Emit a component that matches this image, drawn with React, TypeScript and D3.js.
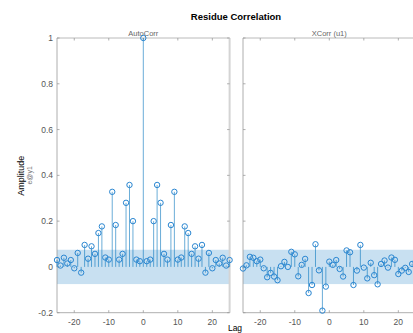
import {useEffect, useRef} from "react";
import * as d3 from "d3";

// lags shown on both panels
const lags = d3.range(-25, 26);

// autocorrelation of e@y1, lags 0..25 (mirrored for negative lags)
const autoCorrHalf = [
    1, 0.025, 0.032, 0.2, 0.358, 0.28, 0.057, 0.032, 0.183, 0.328,
    0.032, 0.041, 0.177, 0.148, 0.057, 0.09, 0.036, 0.096, -0.025, 0.061,
    -0.006, 0.03, 0.015, 0.04, 0.006, 0.03
];

// cross correlation with u1, lags -25..25
const xCorrValues = [
    -0.007, 0.007, 0.044, 0.04, 0.025, 0.032, -0.006, -0.045, -0.026, -0.042,
    -0.058, 0.003, 0.022, 0, 0.066, 0.055, -0.041, 0.009, 0.035, -0.114,
    -0.079, 0.099, -0.015, -0.191, -0.086, 0.023, 0.009, 0.03, -0.009, -0.042,
    0.072, 0.064, -0.079, -0.016, 0.096, -0.003, -0.05, 0.018, -0.036, -0.076,
    0.013, 0.028, -0.003, 0.041, 0.031, -0.031, -0.016, -0.004, -0.022, 0.013,
    0.02
];

const confidenceBound = 0.075;
const yTicks = [-0.2, 0, 0.2, 0.4, 0.6, 0.8, 1];
const xTicks = [-20, -10, 0, 10, 20];
const panelTitles = ["AutoCorr", "XCorr (u1)"];

const autoCorrValues = lags.map(l => autoCorrHalf[Math.abs(l)]);

export default function App() {
    const chartRef = useRef<SVGSVGElement>(null);

    useEffect(() => {
        if (!chartRef.current) return;
        const width = 413;
        const height = 333;
        const marginTop = 38;
        const marginBottom = 20.3;
        const panelWidth = 172.6;
        const panelLefts = [57, 243];
        const font = "'Liberation Sans', Arial, sans-serif";
        const blue = "#0072BD";

        const svg = d3.select(chartRef.current)
            .attr("width", width)
            .attr("height", height)
            .attr("viewBox", [0, 0, width, height])
            .style("font-family", font);
        svg.selectAll("*").remove();

        const yScale = d3.scaleLinear()
            .domain([-0.2, 1])
            .range([height - marginBottom, marginTop]);

        svg.append("text")
            .attr("x", 236)
            .attr("y", 20)
            .attr("text-anchor", "middle")
            .attr("font-size", 9.5)
            .attr("font-weight", "bold")
            .attr("fill", "#000")
            .text("Residue Correlation");

        const series = [autoCorrValues, xCorrValues];

        series.forEach((values, i) => {
            const left = panelLefts[i];
            const xScale = d3.scaleLinear()
                .domain([-25, 25])
                .range([left, left + panelWidth]);
            const g = svg.append("g");

            // confidence region
            g.append("rect")
                .attr("x", xScale(-25))
                .attr("width", xScale(25) - xScale(-25))
                .attr("y", yScale(confidenceBound))
                .attr("height", yScale(-confidenceBound) - yScale(confidenceBound))
                .attr("fill", "#c8e0f1");

            // box
            const x0 = xScale(-25), x1 = xScale(25);
            const y0 = yScale(-0.2), y1 = yScale(1);
            g.append("line").attr("x1", x0).attr("x2", x1).attr("y1", y1).attr("y2", y1)
                .attr("stroke", "#a8a8a8").attr("stroke-width", 0.8);
            g.append("line").attr("x1", x1).attr("x2", x1).attr("y1", y0).attr("y2", y1)
                .attr("stroke", "#d4d4d4").attr("stroke-width", 2);
            g.append("line").attr("x1", x0).attr("x2", x0).attr("y1", y0).attr("y2", y1)
                .attr("stroke", "#9a9a9a").attr("stroke-width", 0.8);
            g.append("line").attr("x1", x0).attr("x2", x1).attr("y1", y0).attr("y2", y0)
                .attr("stroke", "#9a9a9a").attr("stroke-width", 0.8);

            // ticks (inward, all sides)
            xTicks.forEach(t => {
                g.append("line").attr("x1", xScale(t)).attr("x2", xScale(t))
                    .attr("y1", y0).attr("y2", y0 - 2.5).attr("stroke", "#9a9a9a").attr("stroke-width", 0.8);
                g.append("line").attr("x1", xScale(t)).attr("x2", xScale(t))
                    .attr("y1", y1).attr("y2", y1 + 2.5).attr("stroke", "#9a9a9a").attr("stroke-width", 0.8);
                g.append("text")
                    .attr("x", xScale(t))
                    .attr("y", 325)
                    .attr("text-anchor", "middle")
                    .attr("font-size", 8.5)
                    .attr("fill", "#555")
                    .text(t);
            });
            yTicks.forEach(t => {
                g.append("line").attr("x1", x0).attr("x2", x0 + 2.5)
                    .attr("y1", yScale(t)).attr("y2", yScale(t)).attr("stroke", "#9a9a9a").attr("stroke-width", 0.8);
                g.append("line").attr("x1", x1).attr("x2", x1 - 2.5)
                    .attr("y1", yScale(t)).attr("y2", yScale(t)).attr("stroke", "#9a9a9a").attr("stroke-width", 0.8);
                if (i === 0) {
                    g.append("text")
                        .attr("x", x0 - 4)
                        .attr("y", yScale(t))
                        .attr("dy", "0.35em")
                        .attr("text-anchor", "end")
                        .attr("font-size", 8.5)
                        .attr("fill", "#555")
                        .text(t);
                }
            });

            g.append("text")
                .attr("x", xScale(0))
                .attr("y", 35.5)
                .attr("text-anchor", "middle")
                .attr("font-size", 7.5)
                .attr("fill", "#666")
                .text(panelTitles[i]);

            // stems
            g.selectAll("line.stem")
                .data(values)
                .join("line")
                .attr("class", "stem")
                .attr("x1", (_, j) => xScale(lags[j]))
                .attr("x2", (_, j) => xScale(lags[j]))
                .attr("y1", yScale(0))
                .attr("y2", d => yScale(d))
                .attr("stroke", blue)
                .attr("stroke-opacity", 0.65)
                .attr("stroke-width", 0.9);

            g.selectAll("circle")
                .data(values)
                .join("circle")
                .attr("cx", (_, j) => xScale(lags[j]))
                .attr("cy", d => yScale(d))
                .attr("r", 2.7)
                .attr("fill", "none")
                .attr("stroke", "#2a86d1")
                .attr("stroke-width", 1);
        });

        // axis labels
        svg.append("text")
            .attr("transform", `translate(24,${yScale(0.4) + 0.5}) rotate(-90)`)
            .attr("text-anchor", "middle")
            .attr("font-size", 9)
            .attr("fill", "#000")
            .text("Amplitude");
        svg.append("text")
            .attr("transform", `translate(32,${yScale(0.4)}) rotate(-90)`)
            .attr("text-anchor", "middle")
            .attr("font-size", 7)
            .attr("fill", "#777")
            .text("e@y1");
        svg.append("text")
            .attr("x", 235)
            .attr("y", 330.5)
            .attr("text-anchor", "middle")
            .attr("font-size", 8.5)
            .attr("fill", "#000")
            .text("Lag");
    }, []);

    return (
        <svg ref={chartRef} style={{position: "absolute", left: 0, top: 0}}/>
    );
}
